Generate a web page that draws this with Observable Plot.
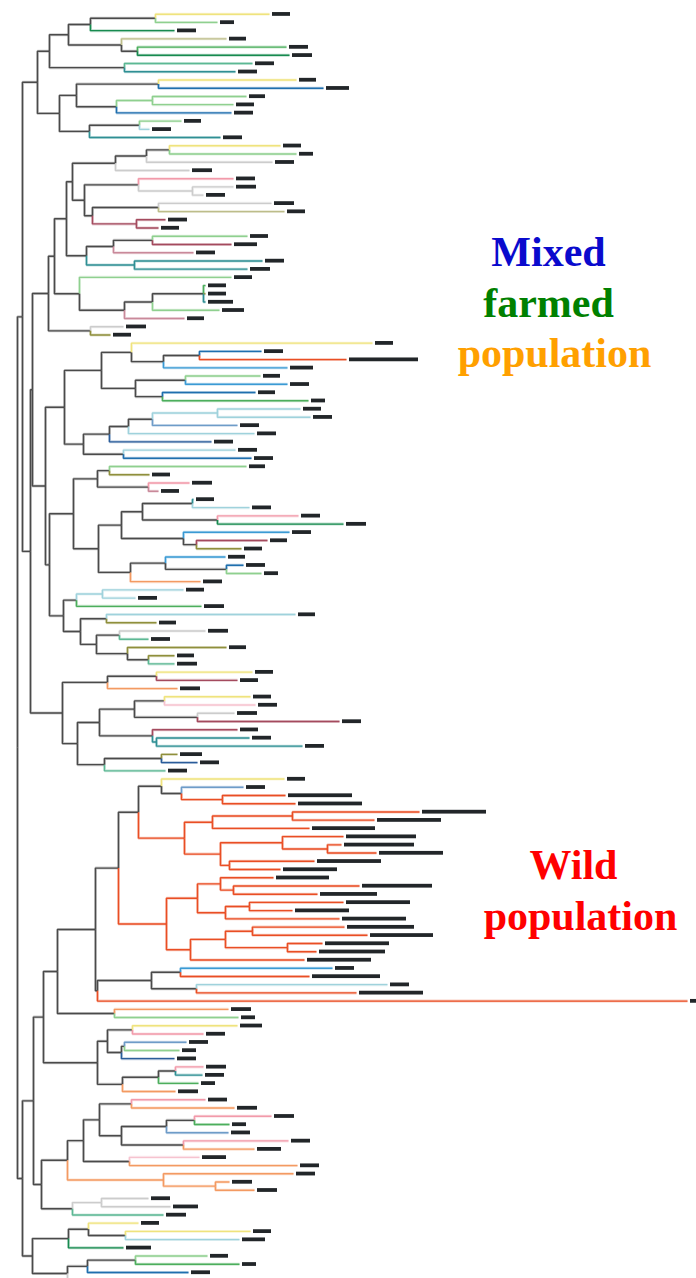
<!DOCTYPE html>
<html><head><meta charset="utf-8">
<script src="https://cdn.jsdelivr.net/npm/d3@7"></script>
<script src="https://cdn.jsdelivr.net/npm/@observablehq/plot@0.6"></script>
<style>body{margin:0;background:#fff}#chart svg{display:block}</style>
</head><body><div id="chart"></div>
<script>
// Tree topology; the number after ":" is each node's cumulative distance from the root.
const cladeA = "((((L1:252,L2:200):138,L3:157):73,(L4:209,(L5:269,L6:272):120):104):51,(L7:235,L8:218):107):32,(((L9:279,L10:306):141,((L11:229,L12:216):135,L13:214):99):59,((L14:164,L15:132):122,L16:203):72):42";
const cladeB1 = "(((L17:263,L18:279):152,L19:255):129,L20:172):98";
const cladeB2 = "((L21:216,(L22:216,L23:186):175):121,((L24:254,L25:267):141,(L26:148,L27:141):119):75):67";
const cladeB3 = "(((L28:230,L29:214):135,L30:176):96,(L31:245,L32:230):117):69";
const cladeB4 = "(L33:214,(((L34:188,L35:188,L36:188):186,L37:202):135,L38:167):107):62";
const cladeB5 = "(L39:106,L40:93):73";
const cladeC1 = "((L41:355,((L42:244,L43:329):182,L44:270):146):114,((L45:243,L46:270):168,(L47:238,L48:291):145):118):84";
const cladeC2 = "(((((L49:283,L50:293):200,L51:220):135,L52:237):111,L53:194):92,(L54:218,L55:234):106):66";
const cladeC3 = "((L56:229,L57:132):92,(L58:172,L59:141):131):80";
const cladeC4 = "(((L60:176,L61:232):175,(L62:281,L63:326):200):125,(L64:272,(L65:250,L66:224):179):166):104";
const cladeC5 = "((L67:208,(L68:226,L69:244):209):148,L70:183):113";
const cladeC6 = "((L71:166,L72:118):85,L73:184):59";
const cladeC7 = "((L74:278,L75:139):89,((L76:188,L77:131):102,(L78:209,(L79:157,L80:157):131):110):79):63";
const cladeD1 = "((L81:235,L82:220):139,L83:160):90";
const cladeD2 = "(((L84:233,L85:238):147,(L86:217,L87:322):180):117,(L88:220,(L89:232,L90:285):139):135):82";
const cladeD3 = "((L91:160,L92:180):144,L93:148):87";
const wild1 = "((L94:267,(L95:226,(L96:268,L97:278):205):164):144,(((L98:402,L99:357):275,L100:292):195,((L101:326,(L102:324,L103:359):310):265,(L104:297,L105:263):212):203):167):121";
const wild2 = "(((L106:256,(L107:342,L108:300):216):203,((L109:326,L110:275):232,L111:322):208):180,(((L112:327,L113:350):235,(L114:305,L115:299):270):208,L116:287):173):149";
const wild3 = "(((L117:315,L118:292):163,(L119:370,L120:339):179):134,L121:670):80";
const cladeE1 = "(L122:211,L123:221):97";
const cladeE2 = "(((L124:220,L125:186):115,((L126:169,L127:162):107,L128:157):104):90,(((L129:186,L130:185):158,L131:181):141,L132:158):105):80";
const cladeF1 = "((L133:188,L134:217):114,(((L135:254,L136:212):177,L137:211):149,(L138:271,L139:237):166):104):82";
const cladeF2 = "(L140:182,L141:280):112";
const cladeF3 = "(L142:276,(L143:212,L144:237):198):146";
const cladeF4 = "((L145:131,L146:153):84,L147:146):55";
const cladeG1 = "((L148:121,(L149:233,L150:222):108):71,L151:106):51";
const cladeG2 = "(((L152:190,L153:222):118,L154:171):70,L155:133):50";

const topHalf = `((${cladeA}):20,((((((${cladeB1},${cladeB2}):55,${cladeB3}):49,${cladeB4}):37,${cladeB5}):31,((${cladeC1},${cladeC2}):47,((${cladeC3},(${cladeC4},${cladeC5}):81):56,(${cladeC6},${cladeC7}):46):32):28):15,(${cladeD1},(${cladeD2},${cladeD3}):60):45):13):5`;
const bottomHalf = `((((((${wild1},${wild2}):101,${wild3}):78,${cladeE1}):40,${cladeE2}):26,(((${cladeF1},${cladeF2}):66,${cladeF3}):50,${cladeF4}):24):16,(${cladeG1},${cladeG2}):15):5`;
const treeDepths = `(${topHalf},${bottomHalf}):0`;

// population / origin group of each leaf, top to bottom
const leafGroup = ["Y","LG","DG","K","G","DG","TG","T","Y","B",
 "LG","LG","B","LG","LT","T","Y","LG","GR","GR",
 "P","GR","GR","GR","K","M","M","LG","M","MV",
 "T","T","LG","G","OL","T","LG","MV","GR","OL",
 "Y","B","R","LB","LG","LB","B","G","LT","LT",
 "SB","LT","DB","LT","B","LG","OL","P","MV","T",
 "LT","P","DG","LB","M","OL","LB","B","LG","O",
 "LT","LT","G","LT","OL","GR","TG","OL","OL","TG",
 "Y","M","O","Y","PL","GR","M","M","T","T",
 "OL","DB","TG","Y","SB","R","R","R","R","R",
 "R","R","R","R","R","R","R","R","R","R",
 "R","R","R","R","R","R","LB","R","LT","R",
 "R","O","LG","Y","P","SB","LG","DB","P","T",
 "G","O","P","O","P","G","SB","P","O","PL",
 "O","O","O","O","GR","GR","TG","Y","Y","LT",
 "DG","LG","G","B","GR"];

// length of the black bar after each leaf
const barLength = [18,14,19,17,19,20,19,19,17,23,
 16,18,19,17,19,19,18,14,19,20,
 19,20,19,20,18,19,18,18,23,19,
 19,20,18,18,18,25,22,17,20,18,
 18,19,69,23,17,19,17,14,18,19,
 19,19,19,19,19,16,18,20,18,18,
 19,19,20,19,17,18,17,19,14,19,
 18,19,20,17,17,20,19,17,17,20,
 18,18,20,18,19,20,19,18,19,19,
 22,19,19,18,19,64,64,64,64,63,
 70,70,64,64,54,53,70,57,64,54,
 64,67,63,64,66,64,19,68,19,64,
 20,20,14,22,19,19,14,19,20,19,
 14,20,19,20,20,14,19,19,24,24,
 19,19,20,20,19,25,20,18,18,23,
 25,18,14,19,20];

const groupColor = {
  Y:"#efe37d", LG:"#8fd08f", G:"#4cae5c", DG:"#178a4f", K:"#bdbd8a", OL:"#8f8f3c",
  TG:"#5cb894", T:"#2f8f94", LT:"#9fd2dc", LB:"#3a9ad4", B:"#1f6fae", DB:"#2a5c9a",
  SB:"#6e9cc8", P:"#f29aaa", PL:"#f6c3cf", GR:"#cccccc", M:"#a44a5e", MV:"#c9899a",
  O:"#f39a62", R:"#e94e24"
};
const mixedColor = "#4a4a4a";

const labelText = ["Mixed","farmed","population","Wild","population"];
const labelColor = ["#0a0acd","#008000","#ffa000","#ff0000","#ff0000"];
const labelDepth = [531, 531, 537, 556, 563];
const labelLeafPos = [31.6, 37.85, 43.9, 106.2, 112.4];

// ---- parse tree ----
function parseTree(src) {
  const s = src.replace(/\s+/g, "");
  let i = 0;
  function node() {
    const n = {children: []};
    if (s[i] === "(") {
      i++;
      n.children.push(node());
      while (s[i] === ",") { i++; n.children.push(node()); }
      i++;
    } else {
      let name = "";
      while (i < s.length && /[A-Za-z0-9_]/.test(s[i])) name += s[i++];
      n.name = name;
    }
    if (s[i] === ":") {
      i++;
      let num = "";
      while (i < s.length && /[0-9.\-]/.test(s[i])) num += s[i++];
      n.depth = +num;
    }
    return n;
  }
  return node();
}
const root = parseTree(treeDepths);

const leaves = [];
function layout(n) {
  if (!n.children.length) {
    const k = +n.name.slice(1);
    n.y = k;
    n.group = leafGroup[k - 1];
    leaves.push({i: k, depth: n.depth, bar: barLength[k - 1]});
  } else {
    n.children.forEach(layout);
    n.y = (n.children[0].y + n.children[n.children.length - 1].y) / 2;
    const g = n.children[0].group;
    n.group = n.children.every(c => c.group && c.group === g) ? g : null;
  }
}
layout(root);

const links = [];
function collect(n) {
  for (const c of n.children) {
    links.push({x1: n.depth, y1: n.y, x2: c.depth, y2: c.y, color: c.group ? groupColor[c.group] : mixedColor});
    collect(c);
  }
}
collect(root);

const labels = labelText.map((t, k) => ({text: t, color: labelColor[k], x: labelDepth[k], y: labelLeafPos[k]}));

const chart = Plot.plot({
  width: 696,
  height: 1278,
  margin: 0,
  x: {domain: [0, 679], range: [17, 696], axis: null},
  y: {domain: [1, 154], range: [13.7, 1272], axis: null},
  color: {type: "identity"},
  marks: [
    Plot.link(links, {x1: "x1", y1: "y1", x2: "x2", y2: "y2", curve: "step-before", stroke: "color", strokeWidth: 3, strokeOpacity: 0.28}),
    Plot.link(links, {x1: "x1", y1: "y1", x2: "x2", y2: "y2", curve: "step-before", stroke: "color", strokeWidth: 1.4}),
    Plot.rect(leaves, {x1: d => d.depth + 3, x2: d => d.depth + 3 + d.bar, y1: d => d.i - 0.2, y2: d => d.i + 0.26, fill: "#222629"}),
    Plot.text(labels, {x: "x", y: "y", text: "text", fill: "color", fontSize: 42, fontWeight: "bold",
      fontFamily: "'Liberation Serif', 'Times New Roman', serif", lineAnchor: "bottom", textAnchor: "middle"})
  ]
});
document.getElementById("chart").appendChild(chart);
</script>
</body></html>
